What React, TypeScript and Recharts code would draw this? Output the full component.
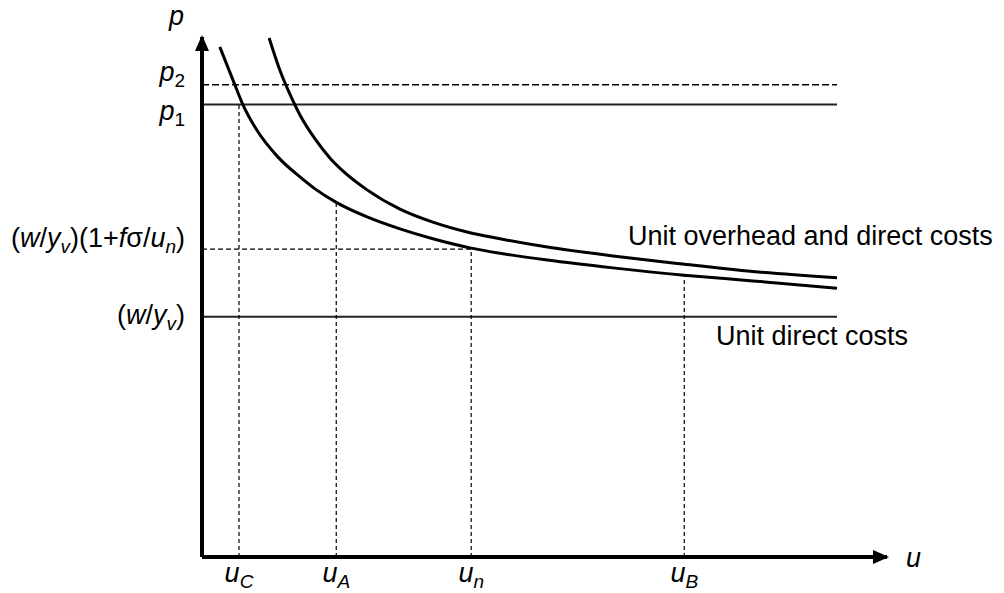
import React from 'react';
import { ComposedChart, Line, XAxis, YAxis, ReferenceLine } from 'recharts';

// values (u: 0..100 along the axis, p: 0..100 up the axis)
const lowerU = [2.6, 4.8, 6.0, 8.0, 11.1, 14.3, 16.5, 19.6, 24.1, 28.9, 33.7, 39.3, 43.5, 50.4, 60.0, 70.4, 80.4, 92.7];
const lowerP = [98.1, 90.8, 86.9, 82.1, 76.9, 73.1, 70.8, 68.2, 65.4, 63.1, 61.2, 59.4, 58.4, 57.1, 55.6, 54.2, 53.1, 51.7];

const upperU = [9.8, 11.4, 12.9, 14.3, 16.5, 18.7, 20.6, 24.1, 28.9, 33.7, 38.7, 43.5, 50.4, 60.0, 69.8, 80.4, 92.7];
const upperP = [99.8, 93.5, 88.8, 85.0, 80.4, 76.7, 74.2, 70.6, 66.9, 64.4, 62.5, 61.2, 59.6, 57.9, 56.4, 54.9, 53.7];

// horizontal levels on the p axis
const p2 = 90.8;
const p1 = 87.0;
const overheadLevel = 59.2;
const directLevel = 46.2;
const lineEnd = 92.7;

// quantities on the u axis, and where each dashed drop line starts
const xTicks = [5.4, 19.6, 39.3, 70.4];
const dropTops = [p1, 68.3, overheadLevel, 54.4];
const yTicks = [directLevel, overheadLevel, p1, p2];

// label pieces: i = italic, n = upright, s = italic subscript, d = upright subscript
type Part = [string, 'i' | 'n' | 's' | 'd'];
const xTickLabels: Part[][] = [
  [['u', 'i'], ['C', 's']],
  [['u', 'i'], ['A', 's']],
  [['u', 'i'], ['n', 's']],
  [['u', 'i'], ['B', 's']],
];
const yTickLabels: Part[][] = [
  [['(', 'n'], ['w', 'i'], ['/', 'n'], ['y', 'i'], ['v', 's'], [')', 'n']],
  [['(', 'n'], ['w', 'i'], ['/', 'n'], ['y', 'i'], ['v', 's'], [')(1+', 'n'], ['f', 'i'], ['σ', 'n'], ['/', 'n'], ['u', 'i'], ['n', 's'], [')', 'n']],
  [['p', 'i'], ['1', 'd']],
  [['p', 'i'], ['2', 'd']],
];
const yLabelShift = [7, -2, 15.5, -4];

const FONT = '"Liberation Sans", Arial, sans-serif';
const SUB = 6;

const renderParts = (parts: Part[]) => {
  let low = false;
  return parts.map(([txt, kind], i) => {
    const sub = kind === 's' || kind === 'd';
    let dy = 0;
    if (sub && !low) dy = SUB;
    if (!sub && low) dy = -SUB;
    low = sub;
    return (
      <tspan
        key={i}
        dy={dy}
        fontSize={sub ? 19 : 27}
        fontStyle={kind === 'i' || kind === 's' ? 'italic' : 'normal'}
      >
        {txt}
      </tspan>
    );
  });
};

const XTick = (props: any) => {
  const { x, y, payload } = props;
  const idx = xTicks.indexOf(payload.value);
  if (idx < 0) return null;
  return (
    <text x={x} y={y + 25} textAnchor="middle" fill="#000" fontFamily={FONT}>
      {renderParts(xTickLabels[idx])}
    </text>
  );
};

const YTick = (props: any) => {
  const { x, y, payload } = props;
  const idx = yTicks.indexOf(payload.value);
  if (idx < 0) return null;
  return (
    <text x={x - 17} y={y + yLabelShift[idx]} textAnchor="end" fill="#000" fontFamily={FONT}>
      {renderParts(yTickLabels[idx])}
    </text>
  );
};

const lowerData = lowerU.map((u, i) => ({ u, p: lowerP[i] }));
const upperData = upperU.map((u, i) => ({ u, p: upperP[i] }));

export default function App() {
  return (
    <div style={{ position: 'relative', width: 988, height: 585, background: '#fff' }}>
      <ComposedChart width={988} height={585} margin={{ top: 29, right: 109, bottom: 0, left: 0 }}>
        <XAxis
          type="number"
          dataKey="u"
          domain={[0, 100]}
          ticks={xTicks}
          interval={0}
          height={36}
          tickLine={false}
          tickSize={0}
          tickMargin={0}
          axisLine={{ stroke: '#000', strokeWidth: 4, markerEnd: 'url(#arrowHead)' }}
          tick={<XTick />}
        />
        <YAxis
          type="number"
          domain={[0, 100]}
          ticks={yTicks}
          interval={0}
          width={194}
          tickLine={false}
          tickSize={0}
          tickMargin={0}
          axisLine={{ stroke: '#000', strokeWidth: 4, markerStart: 'url(#arrowHead)' }}
          tick={<YTick />}
        />
        <ReferenceLine segment={[{ x: 0, y: p2 }, { x: lineEnd, y: p2 }]} stroke="#000" strokeWidth={1.5} strokeDasharray="7 3" />
        <ReferenceLine segment={[{ x: 0, y: p1 }, { x: lineEnd, y: p1 }]} stroke="#222" strokeWidth={2} />
        <ReferenceLine
          segment={[{ x: 0, y: overheadLevel }, { x: xTicks[2], y: overheadLevel }]}
          stroke="#000"
          strokeWidth={1.3}
          strokeDasharray="5 3"
        />
        <ReferenceLine segment={[{ x: 0, y: directLevel }, { x: lineEnd, y: directLevel }]} stroke="#222" strokeWidth={2} />
        {xTicks.map((u, i) => (
          <ReferenceLine
            key={u}
            segment={[{ x: u, y: 0 }, { x: u, y: dropTops[i] }]}
            stroke="#000"
            strokeWidth={1.2}
            strokeDasharray="4 3"
          />
        ))}
        <Line data={lowerData} dataKey="p" type="monotone" stroke="#000" strokeWidth={3} dot={false} isAnimationActive={false} />
        <Line data={upperData} dataKey="p" type="monotone" stroke="#000" strokeWidth={3} dot={false} isAnimationActive={false} />
      </ComposedChart>
      <svg width={988} height={585} style={{ position: 'absolute', left: 0, top: 0, pointerEvents: 'none', overflow: 'visible' }}>
        <defs>
          <marker
            id="arrowHead"
            markerUnits="userSpaceOnUse"
            markerWidth={16}
            markerHeight={14}
            viewBox="0 0 16 14"
            refX={14}
            refY={7}
            orient="auto-start-reverse"
          >
            <path d="M0,0 L16,7 L0,14 z" fill="#000" />
          </marker>
        </defs>
        <g fontFamily={FONT} fill="#000">
          <text x={161} y={17} fontSize={27} fontStyle="italic">p</text>
          <text x={898} y={559} fontSize={27} fontStyle="italic">u</text>
          <text x={620} y={237} fontSize={27}>Unit overhead and direct costs</text>
          <text x={708} y={337} fontSize={27}>Unit direct costs</text>
        </g>
      </svg>
    </div>
  );
}
